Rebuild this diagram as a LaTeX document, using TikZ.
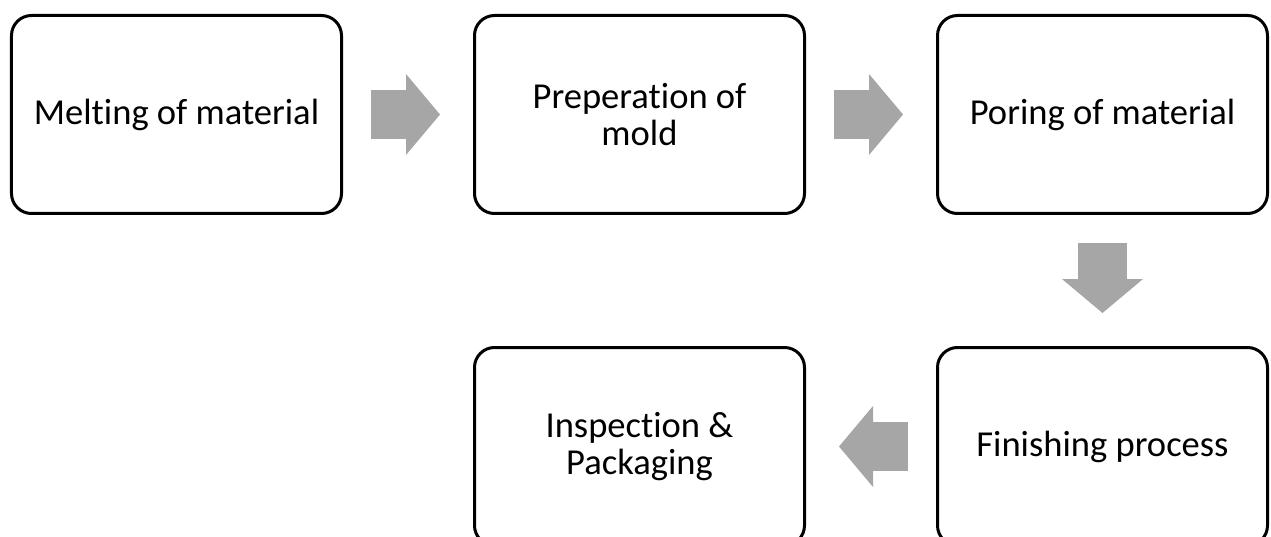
\documentclass[tikz,border=0pt]{standalone}
\usepackage{fontspec}
\setmainfont{Carlito}[Ligatures=NoCommon]
\usepackage{tikz}
\usetikzlibrary{positioning}
\usetikzlibrary{arrows.meta}
\definecolor{arrowgray}{RGB}{166 166 166}
\tikzstyle{stage} = [rectangle, rounded corners=0.4cm, minimum width=6.6cm, minimum height=3.96cm, text centered, align=center, draw=black, line width=0.06cm, font=\fontsize{20.8}{21}\selectfont]
\tikzstyle{flow} = [arrowgray, line width=0.98cm, -{Triangle[length=0.68cm, width=1.62cm, line width=0pt]}, shorten <=0.56cm, shorten >=0.66cm]

\begin{document}
\begin{tikzpicture}[node distance=2.62cm and 2.6cm]
        \useasboundingbox (0,0) rectangle (25.42,-10.74);
        \node (melt) [stage] at (3.53,-2.29) {Melting of material};
        \node (mold) [stage, right=of melt] {Preperation of\\mold};
        \node (pour) [stage, right=of mold] {Poring of material};
        \node (finish) [stage, below=of pour] {Finishing process};
        \node (inspect) [stage, left=of finish] {Inspection \&\\Packaging};
        \draw [flow] (melt) -- (mold);
        \draw [flow] (mold) -- (pour);
        \draw [flow] (pour) -- (finish);
        \draw [flow] (finish) -- (inspect);
    \end{tikzpicture}
\end{document}
